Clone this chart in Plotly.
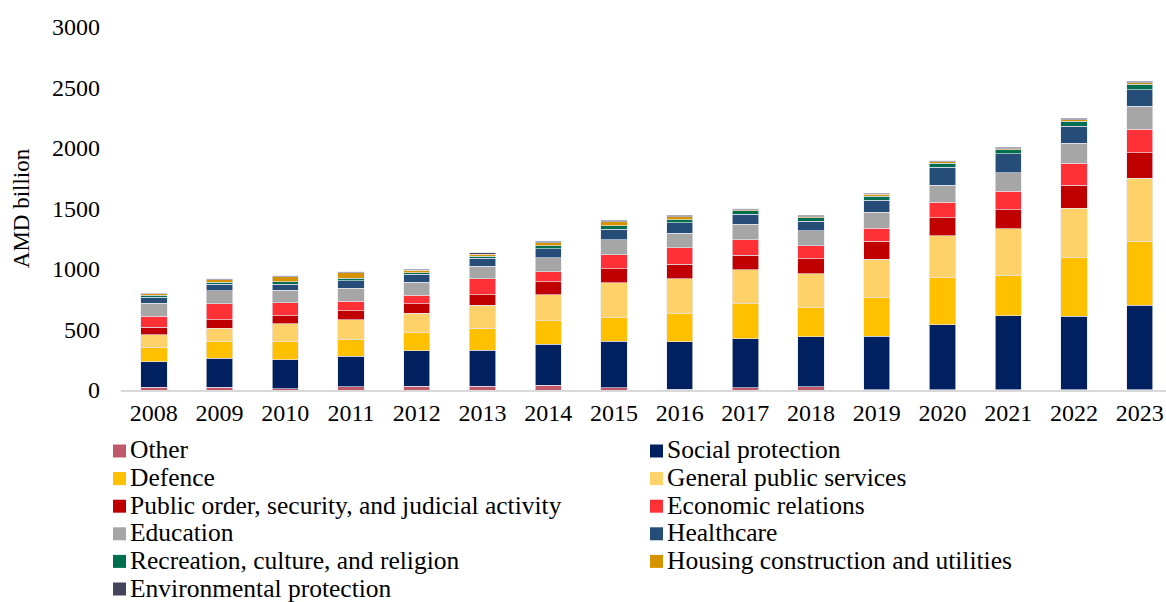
import plotly.graph_objects as go

years = [str(y) for y in range(2008, 2024)]

# State budget expenditures by function, AMD billion
other = [22, 22, 11, 28, 33, 33, 39, 17, 6, 17, 25, 3, 3, 3, 3, 3]
social_protection = [212, 240, 240, 253, 292, 297, 339, 386, 394, 408, 416, 443, 537, 609, 606, 697]
defence = [121, 135, 146, 140, 149, 179, 193, 196, 229, 289, 240, 317, 386, 336, 482, 529]
general_public_services = [102, 113, 149, 160, 162, 193, 215, 286, 292, 281, 278, 317, 347, 383, 410, 523]
public_order = [63, 69, 66, 74, 77, 85, 107, 118, 118, 118, 127, 149, 151, 160, 193, 207]
economic_relations = [91, 132, 110, 80, 72, 132, 83, 116, 135, 130, 107, 107, 127, 152, 179, 198]
education = [105, 110, 102, 107, 105, 105, 116, 121, 121, 127, 124, 132, 143, 154, 165, 187]
healthcare = [52, 55, 52, 63, 66, 63, 77, 88, 88, 83, 77, 99, 149, 157, 143, 138]
recreation = [17, 14, 17, 19, 14, 17, 22, 28, 25, 28, 28, 33, 33, 30, 39, 44]
housing = [11, 22, 44, 47, 19, 19, 28, 36, 25, 8, 11, 17, 11, 11, 14, 14]
environmental = [3, 8, 8, 8, 11, 11, 11, 11, 11, 11, 11, 11, 8, 11, 11, 11]

series = [
    ("Other", other, "#C0596A"),
    ("Social protection", social_protection, "#002060"),
    ("Defence", defence, "#FFC000"),
    ("General public services", general_public_services, "#FFD169"),
    ("Public order, security, and judicial activity", public_order, "#C00000"),
    ("Economic relations", economic_relations, "#FF3036"),
    ("Education", education, "#A6A6A6"),
    ("Healthcare", healthcare, "#264D78"),
    ("Recreation, culture, and religion", recreation, "#006F4F"),
    ("Housing construction and utilities", housing, "#D69300"),
    ("Environmental protection", environmental, "#44455A"),
]

FONT = "Liberation Serif, Times New Roman, serif"
W, H = 1166, 602
ML, MR, MT, MB = 121, 0, 27, 212
PW, PH = W - ML - MR, H - MT - MB


def px_x(px):
    return (px - ML) / PW


def px_y(py):
    return (H - MB - py) / PH


fig = go.Figure()
for name, vals, color in series:
    fig.add_trace(go.Bar(
        x=years, y=vals, name=name, showlegend=False,
        marker=dict(color=color, line=dict(color="rgba(230,230,240,0.8)", width=0.8)),
    ))

# Two-column legend below the plot: swatch + label per series
shapes, annotations = [], []
col_x = [113, 650]
row_y0, row_step, sw = 451, 27.6, 13
for i, (name, _, color) in enumerate(series):
    cx = col_x[i % 2]
    cy = row_y0 + (i // 2) * row_step
    shapes.append(dict(
        type="rect", xref="paper", yref="paper",
        x0=px_x(cx), x1=px_x(cx + sw),
        y0=px_y(cy + sw / 2), y1=px_y(cy - sw / 2),
        fillcolor=color, line=dict(width=0),
    ))
    annotations.append(dict(
        xref="paper", yref="paper", x=px_x(cx + sw + 3), y=px_y(cy - 1),
        xanchor="left", yanchor="middle", showarrow=False, borderpad=0,
        text=name, font=dict(family=FONT, size=25.5, color="#000000"),
    ))

fig.update_layout(
    barmode="stack",
    bargap=0.6,
    width=W, height=H,
    margin=dict(l=ML, r=MR, t=MT, b=MB, autoexpand=False),
    plot_bgcolor="white", paper_bgcolor="white",
    font=dict(family=FONT, size=24, color="#000000"),
    showlegend=False,
    shapes=shapes,
    annotations=annotations,
    xaxis=dict(
        range=[-0.5, 15.4],
        showline=True, linecolor="#D9D9D9", linewidth=2,
        showgrid=False, ticks="", tickfont=dict(size=24),
    ),
    yaxis=dict(
        range=[0, 3000], tickvals=[0, 500, 1000, 1500, 2000, 2500, 3000],
        showgrid=False, zeroline=False, showline=False, ticks="",
        tickfont=dict(size=24), ticklabelstandoff=20,
        title=dict(text="AMD billion", font=dict(size=23), standoff=15),
    ),
)

fig.write_html("out.html")
